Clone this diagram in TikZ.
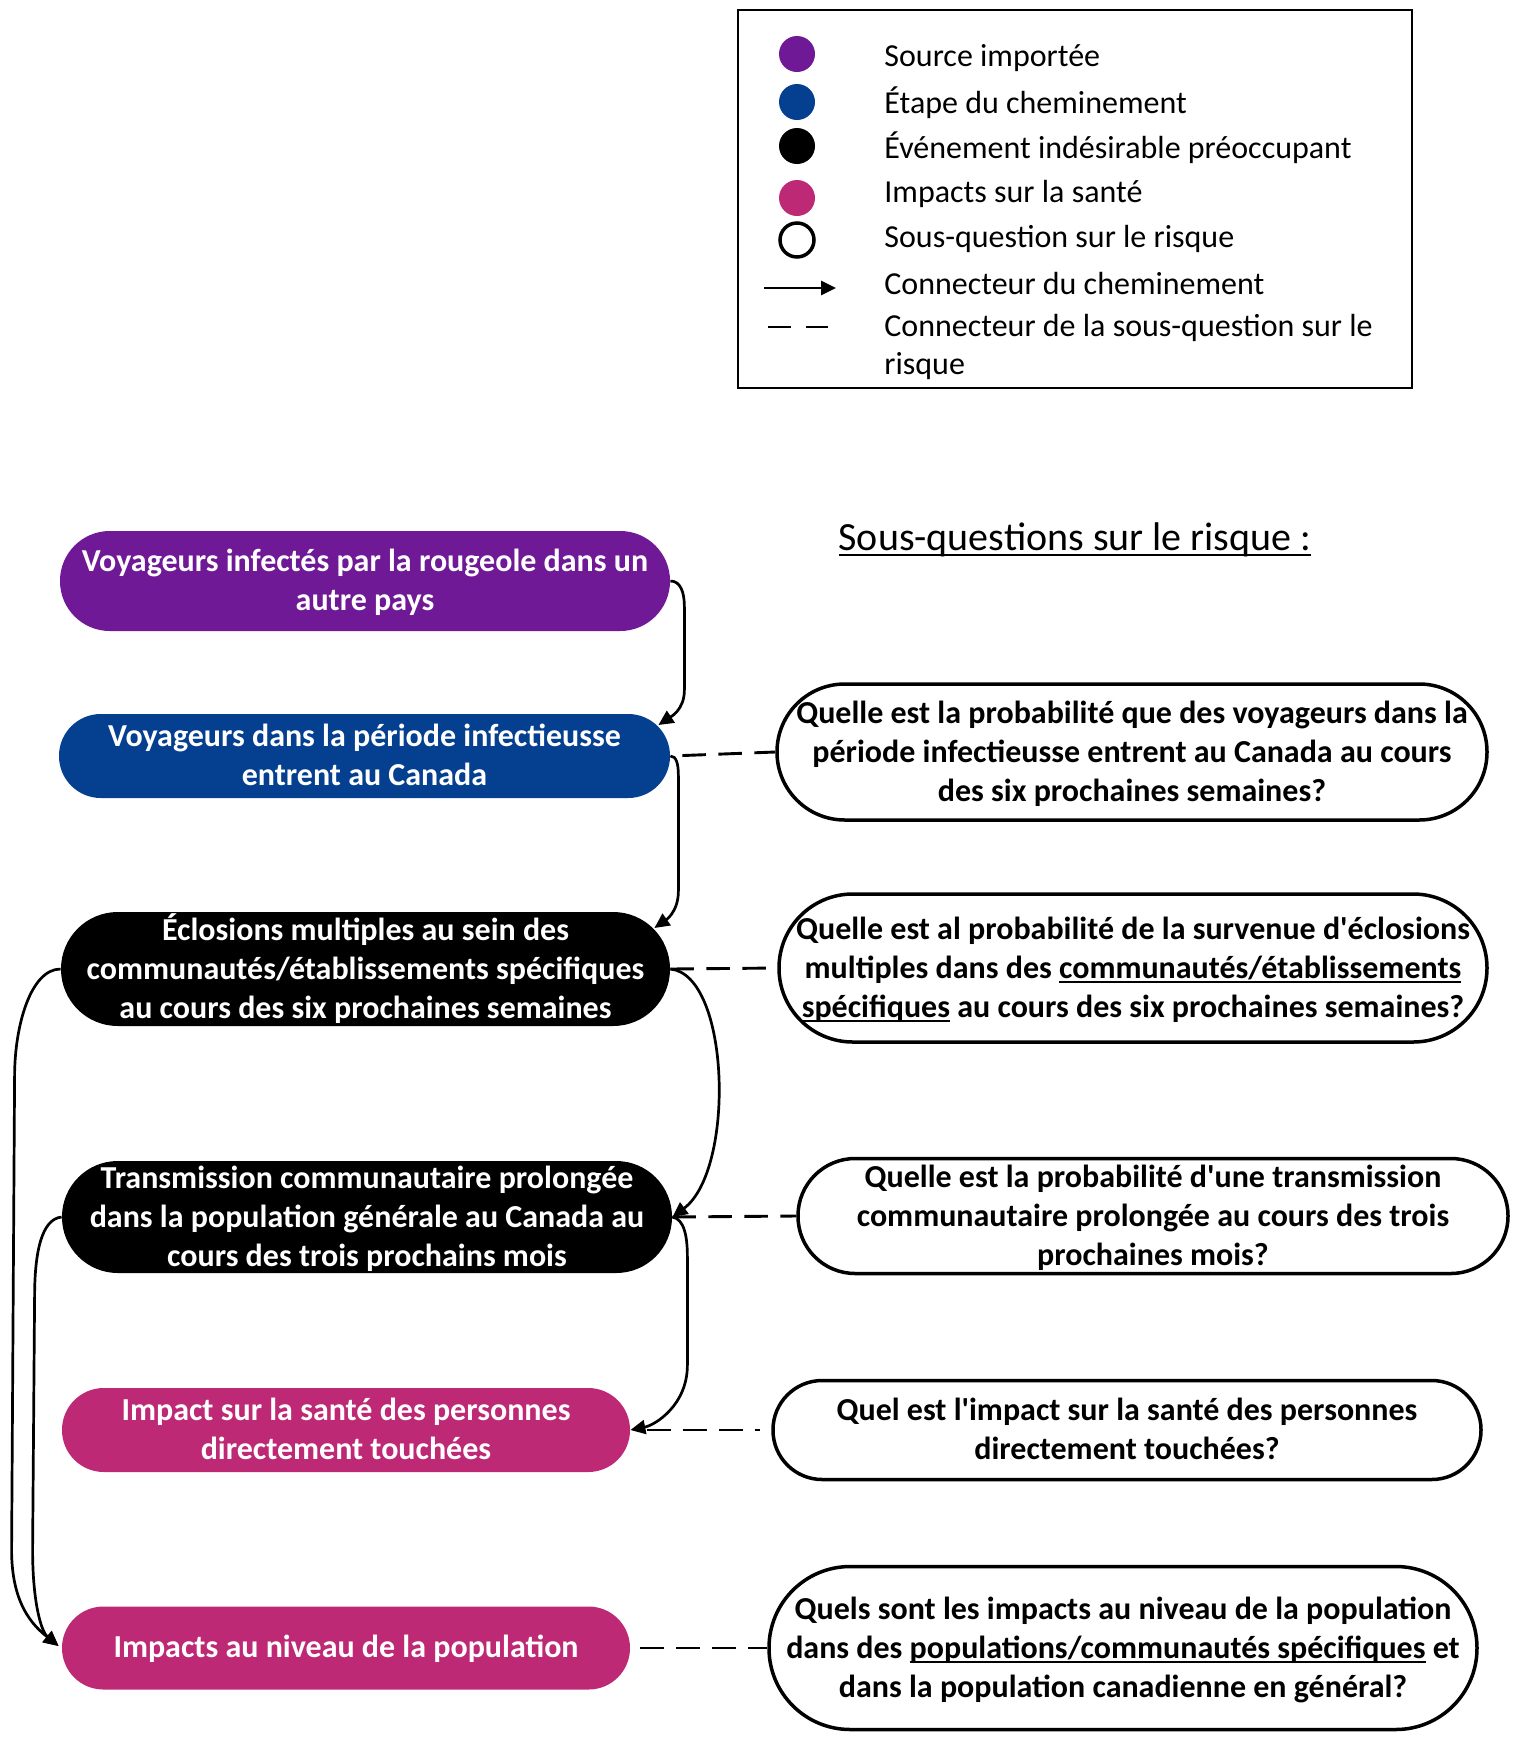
\documentclass[tikz,border=0pt]{standalone}
\usepackage{fontspec}
\setmainfont{Carlito}
\usetikzlibrary{calc,arrows.meta}
\definecolor{cpurple}{RGB}{112,25,150}
\definecolor{cblue}{RGB}{4,64,143}
\definecolor{cmag}{RGB}{190,41,118}
\newcommand\myul[2][-2.2pt]{\leavevmode\setbox0\hbox{#2}\rlap{\rule[#1]{\wd0}{1pt}}\box0\relax}
\begin{document}
\begin{tikzpicture}[x=0.5pt,y=-0.5pt,
  stage/.style={rectangle, inner sep=0pt, text=white, align=center,
    font=\bfseries\fontsize{16}{19.5}\selectfont},
  quest/.style={stage, draw=black, line width=1.75pt, fill=white, text=black},
  oneline/.style={text height=9.3pt, text depth=0pt},
  twolines/.style={text height=29.6pt, text depth=0pt},
  threelines/.style={text height=49.2pt, text depth=0pt},
  legtext/.style={anchor=west, inner sep=0pt, align=left,
    font=\fontsize{16}{19}\selectfont},
  legdot/.style={circle, inner sep=0pt, minimum size=18pt},
  conn/.style={line width=1.35pt, -{Triangle[length=7.5pt,width=7pt]}},
  dashconn/.style={line width=1.45pt, dash pattern=on 11.75pt off 6.25pt},
]
\useasboundingbox (0,0) rectangle (1518,1741);

% ---------- legend ----------
\node[draw=black, line width=1pt, minimum width=337pt, minimum height=189pt, inner sep=0pt] (legend) at (1075,199) {};
\node[legdot, fill=cpurple] (ld1) at (797,54) {};
\node[legdot, fill=cblue] (ld2) at (797,102) {};
\node[legdot, fill=black] (ld3) at (797,146) {};
\node[legdot, fill=cmag] (ld4) at (797,198) {};
\node[legdot, draw=black, line width=1.75pt, fill=white, minimum size=17pt] (ld5) at (797,240) {};
\coordinate (la1) at (764,288);
\coordinate (la2) at (836,288);
\draw[conn] (la1) -- (la2);
\coordinate (lb1) at (768,327);
\coordinate (lb2) at (828,327);
\draw[line width=1.45pt, dash pattern=on 11.5pt off 7.5pt] (lb1) -- (lb2);
\node[legtext] (lt1) at (884,58) {Source importée};
\node[legtext] (lt2) at (884,103) {Étape du cheminement};
\node[legtext] (lt3) at (884,148) {Événement indésirable préoccupant};
\node[legtext] (lt4) at (884,194) {Impacts sur la santé};
\node[legtext] (lt5) at (884,239) {Sous-question sur le risque};
\node[legtext] (lt6) at (884,284) {Connecteur du cheminement};
\node[legtext] (lt7) at (884,347) {Connecteur de la sous-question sur le\\risque};

% ---------- heading ----------
\node[inner sep=0pt, font=\fontsize{20}{24}\selectfont] (hd) at (1075,540) {\myul[-2.6pt]{Sous-questions sur le risque :}};

% ---------- stages ----------
\node[stage, twolines, fill=cpurple, minimum width=305pt, minimum height=50pt, rounded corners=24.9pt] (n1) at (365,581)
  {Voyageurs infectés par la rougeole dans un\\autre pays};
\node[stage, twolines, fill=cblue, minimum width=305.5pt, minimum height=42pt, rounded corners=20.9pt] (n2) at (364.5,756)
  {Voyageurs dans la période infectieusse\\entrent au Canada};
\node[stage, threelines, fill=black, minimum width=304.5pt, minimum height=57pt, rounded corners=28.4pt] (n3) at (365.5,969)
  {Éclosions multiples au sein des\\communautés/établissements spécifiques\\au cours des six prochaines semaines};
\node[stage, threelines, fill=black, minimum width=305pt, minimum height=56pt, rounded corners=27.9pt] (n4) at (367,1217)
  {Transmission communautaire prolongée\\dans la population générale au Canada au\\cours des trois prochains mois};
\node[stage, twolines, fill=cmag, minimum width=284pt, minimum height=42pt, rounded corners=20.9pt] (n5) at (346,1430)
  {Impact sur la santé des personnes\\directement touchées};
\node[stage, oneline, fill=cmag, minimum width=284pt, minimum height=41.5pt, rounded corners=20.7pt] (n6) at (346,1648)
  {Impacts au niveau de la population};

% ---------- sub-questions ----------
\node[quest, threelines, minimum width=355pt, minimum height=68pt, rounded corners=33.9pt] (q1) at (1132,752)
  {Quelle est la probabilité que des voyageurs dans la\\période infectieusse entrent au Canada au cours\\des six prochaines semaines?};
\node[quest, threelines, minimum width=354pt, minimum height=74pt, rounded corners=36.9pt] (q2) at (1133,968)
  {Quelle est al probabilité de la survenue d\textquotesingle éclosions\\multiples dans des \myul{communautés/établissements}\\\myul{spécifiques} au cours des six prochaines semaines?};
\node[quest, threelines, minimum width=355pt, minimum height=57.5pt, rounded corners=28.6pt] (q3) at (1153,1216)
  {Quelle est la probabilité d\textquotesingle une transmission\\communautaire prolongée au cours des trois\\prochaines mois?};
\node[quest, twolines, minimum width=354pt, minimum height=49.5pt, rounded corners=24.6pt] (q4) at (1127,1430)
  {Quel est l\textquotesingle impact sur la santé des personnes\\directement touchées?};
\node[quest, threelines, minimum width=354pt, minimum height=81.5pt, rounded corners=40.6pt] (q5) at (1123,1648)
  {Quels sont les impacts au niveau de la population\\dans des \myul{populations/communautés spécifiques} et\\dans la population canadienne en général?};

% ---------- dashed connectors ----------
\draw[dashconn, shorten <=6pt] (n2.east) -- (q1.west);
\draw[dashconn] (n3.east) -- (q2.west);
\draw[dashconn] (n4.east) -- (q3.west);
\draw[dashconn, shorten <=8.5pt, shorten >=5.5pt] (n5.east) -- (q4.west);
\draw[dashconn, shorten <=5pt] (n6.east) -- (q5.west);

% ---------- pathway connectors ----------
\draw[conn] (n1.east) .. controls +(10,0) and +(0,-15) .. ($(n1.east)+(14,26)$)
  -- ($(n2.east)+(14,-66)$) .. controls +(0,20) and +(12,-8) .. ($(n2.east)+(-12,-31)$);
\draw[conn] (n2.east) .. controls +(6,0) and +(0,-12) .. ($(n2.east)+(8,20)$)
  -- ($(n3.east)+(8,-78)$) .. controls +(0,22) and +(10,-7) .. ($(n3.east)+(-16,-41)$);
\draw[conn] (n3.east) .. controls +(60,6) and +(63,-47) .. (n4.east);
\draw[conn] (n4.east) .. controls +(12,2) and +(0,-20) .. ($(n4.east)+(15,40)$)
  -- ($(n5.east)+(57,-65)$) .. controls +(0,40) and +(25,-5) .. (n5.east);
\draw[conn] (n3.west) .. controls +(-30,0) and +(0,-50) .. ($(n3.west)+(-46,107)$)
  -- ($(n6.west)+(-50,-98)$) .. controls +(0,55) and +(-25,-20) .. ($(n6.west)+(-3,-2)$);
\draw[conn] (n4.west) .. controls +(-20,2) and +(0,-45) .. ($(n4.west)+(-27,80)$)
  -- ($(n6.west)+(-29,-98)$) .. controls +(0,50) and +(-18,-15) .. ($(n6.west)+(-3,-2)$);
\end{tikzpicture}
\end{document}
